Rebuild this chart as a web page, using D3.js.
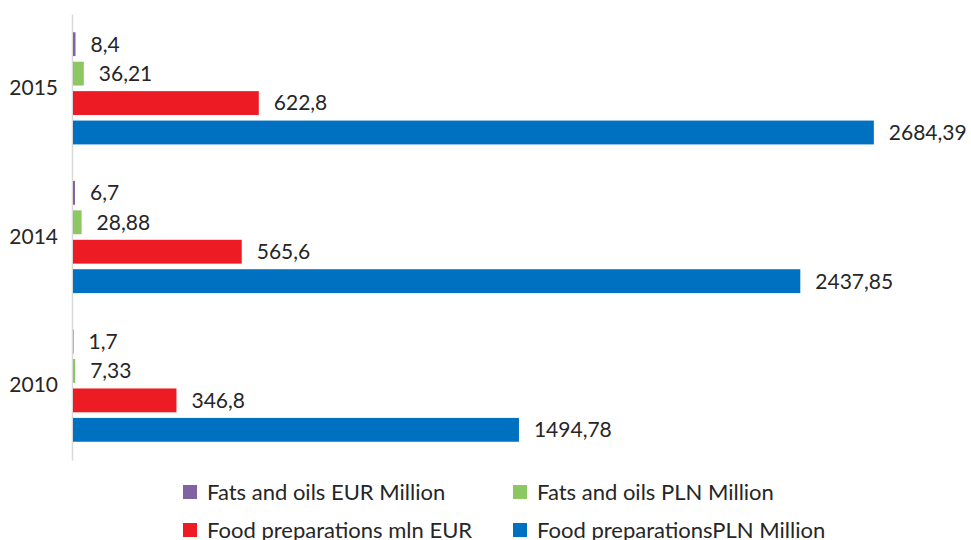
<!DOCTYPE html>
<html lang="en">
<head>
<meta charset="utf-8">
<title>Fats and oils / Food preparations</title>
<script src="https://d3js.org/d3.v7.js"></script>
<style>
  body { margin: 0; background: #fff; }
  text { font-family: Lato, "Open Sans", sans-serif; fill: #262626; }
</style>
</head>
<body>
<script>
// data
var years = ["2015", "2014", "2010"];
var seriesNames = ["Fats and oils EUR Million", "Fats and oils PLN Million",
                   "Food preparations mln EUR", "Food preparationsPLN Million"];
var fatsEur = [8.4, 6.7, 1.7];
var fatsPln = [36.21, 28.88, 7.33];
var foodEur = [622.8, 565.6, 346.8];
var foodPln = [2684.39, 2437.85, 1494.78];
var labels = [["8,4", "6,7", "1,7"], ["36,21", "28,88", "7,33"],
              ["622,8", "565,6", "346,8"], ["2684,39", "2437,85", "1494,78"]];
var colors = ["#8064a2", "#8cc862", "#ed1c24", "#0070c0"];

var w = 971, h = 540;
var allSeries = [fatsEur, fatsPln, foodEur, foodPln];

var svg = d3.select("body").append("svg")
  .attr("width", w)
  .attr("height", h);

// scales
var xScale = d3.scaleLinear()
  .domain([0, 3000])
  .range([72, 967]);

var yScale = d3.scaleBand()
  .domain(years)
  .range([14, 460]);

var inner = d3.scaleBand()
  .domain(d3.range(4))
  .range([0, yScale.bandwidth()])
  .paddingInner(0.19)
  .paddingOuter(0.62);

// y axis (line + year labels)
var yAxis = d3.axisLeft(yScale).tickSize(0).tickPadding(14);
var gy = svg.append("g")
  .attr("transform", "translate(" + xScale(0) + ",0)")
  .call(yAxis);
gy.select(".domain").attr("stroke", "#d9d9d9").attr("stroke-width", 1.5);
gy.selectAll("text").style("font-size", "21px").attr("fill", "#262626")
  .attr("font-family", "Lato, sans-serif");

// bars
var rows = [];
allSeries.forEach(function (vals, s) {
  vals.forEach(function (v, i) {
    rows.push({ s: s, year: years[i], v: v, label: labels[s][i] });
  });
});

svg.selectAll("rect.bar")
  .data(rows)
  .enter()
  .append("rect")
  .attr("class", "bar")
  .attr("x", xScale(0) + 1)
  .attr("y", d => yScale(d.year) + inner(d.s))
  .attr("width", d => xScale(d.v) - xScale(0))
  .attr("height", inner.bandwidth())
  .attr("fill", d => colors[d.s]);

svg.selectAll("text.val")
  .data(rows)
  .enter()
  .append("text")
  .attr("class", "val")
  .attr("x", d => xScale(d.v) + 16)
  .attr("y", d => yScale(d.year) + inner(d.s) + inner.bandwidth() / 2)
  .attr("dy", "0.35em")
  .style("font-size", "21px")
  .text(d => d.label);

// legend
var legend = svg.append("g");
var lg = legend.selectAll("g")
  .data(seriesNames)
  .enter()
  .append("g")
  .attr("transform", (d, i) => "translate(" + (i % 2 ? 513 : 183) + "," + (i < 2 ? 492 : 530) + ")");

lg.append("rect")
  .attr("x", 0)
  .attr("y", -7)
  .attr("width", 14)
  .attr("height", 14)
  .attr("fill", (d, i) => colors[i]);

lg.append("text")
  .attr("x", 24)
  .attr("dy", "0.35em")
  .style("font-size", "22px")
  .text(d => d);
</script>
</body>
</html>
